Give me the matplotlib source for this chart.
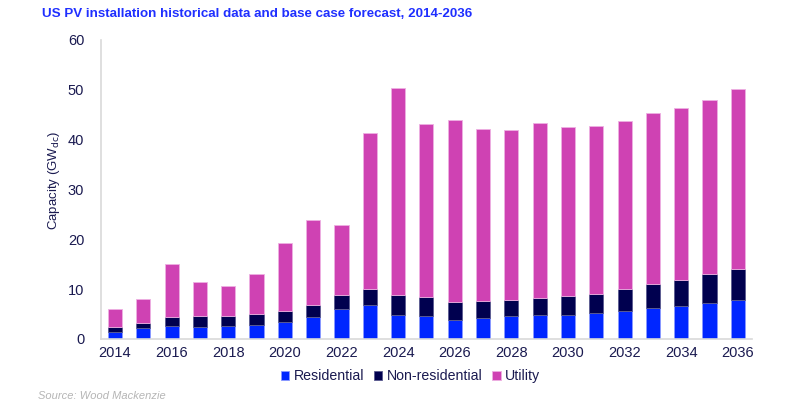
import matplotlib
matplotlib.use('Agg')
import matplotlib.pyplot as plt
import numpy as np

plt.rcParams['font.family'] = ['Liberation Sans', 'DejaVu Sans']

years = list(range(2014, 2037))
residential = [1.3, 2.2, 2.6, 2.3, 2.5, 2.8, 3.3, 4.3, 6.1, 6.8, 4.75, 4.6,
               3.8, 4.1, 4.5, 4.7, 4.9, 5.2, 5.6, 6.2, 6.7, 7.2, 7.9]
non_res_top = [2.3, 3.2, 4.35, 4.55, 4.55, 5.0, 5.6, 6.8, 8.8, 10.1, 8.8, 8.4,
               7.4, 7.7, 7.9, 8.2, 8.6, 9.1, 10.0, 11.0, 11.9, 13.0, 14.1]
totals = [6.0, 8.0, 15.1, 11.4, 10.6, 13.0, 19.3, 23.8, 22.8, 41.3, 50.4, 43.2,
          44.0, 42.2, 41.9, 43.4, 42.5, 42.8, 43.8, 45.3, 46.3, 47.9, 50.1]

residential = np.array(residential)
non_residential = np.array(non_res_top) - residential
utility = np.array(totals) - np.array(non_res_top)

c_res = '#0026ff'
c_nonres = '#00004f'
c_util = '#cf42b3'
txt = '#1a1a50'

fig = plt.figure(figsize=(8, 4.03), dpi=100)
ax = fig.add_axes([0.126, 0.159, 0.814, 0.742])

x = np.arange(len(years))
w = 0.5
ax.bar(x, residential, w, color=c_res, edgecolor='#8a9aff', linewidth=0.6, label='Residential')
ax.bar(x, non_residential, w, bottom=residential, color=c_nonres, edgecolor='#5a5a90',
       linewidth=0.6, label='Non-residential')
ax.bar(x, utility, w, bottom=residential + non_residential, color=c_util,
       edgecolor='#eeb0e2', linewidth=0.6, label='Utility')

ax.set_xlim(-0.5, len(years) - 0.5)
ax.set_ylim(0, 60)
ax.set_yticks(range(0, 61, 10))
ax.set_xticks(x[::2])
ax.set_xticklabels([str(y) for y in years[::2]])
ax.tick_params(length=0, labelsize=10.5, colors=txt, pad=5)
ax.tick_params(axis='y', pad=12)

for s in ['top', 'right']:
    ax.spines[s].set_visible(False)
for s in ['left', 'bottom']:
    ax.spines[s].set_color('#d9d9d9')
    ax.spines[s].set_linewidth(1.2)

ax.set_ylabel('Capacity (GW$_{\\rm dc}$)', fontsize=9.5, color=txt, labelpad=6)
ax.yaxis.set_label_coords(-0.059, 0.53)

fig.text(0.052, 0.965, 'US PV installation historical data and base case forecast, 2014-2036',
         fontsize=9.6, fontweight='bold', color='#1f2fff', va='center')

leg = fig.legend(loc='center', bbox_to_anchor=(0.513, 0.067), ncol=3, frameon=False,
                 fontsize=10.2, handlelength=0.6, handleheight=0.6, handletextpad=0.3,
                 columnspacing=0.7)
for t in leg.get_texts():
    t.set_color(txt)

fig.text(0.047, 0.017, 'Source: Wood Mackenzie', fontsize=8, style='italic',
         color='#b5b5b5', va='center')

fig.savefig('out.png', dpi=100)
